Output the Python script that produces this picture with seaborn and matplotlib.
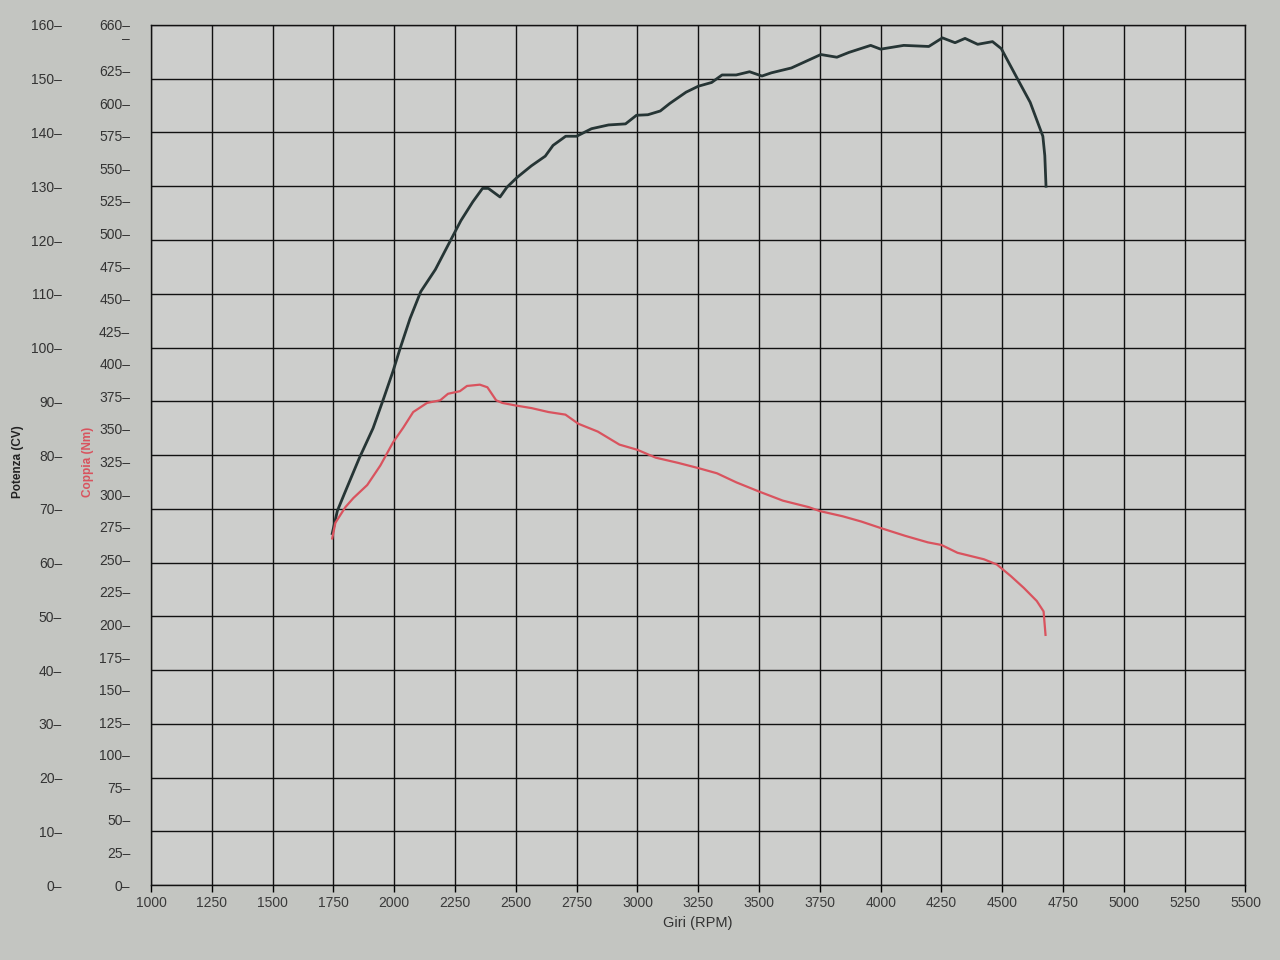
import numpy as np
import pandas as pd
import matplotlib
matplotlib.use("Agg")
import matplotlib.pyplot as plt
import seaborn as sns
from matplotlib.ticker import FixedLocator, FuncFormatter

# power curve (CV)
power_rpm = [1745, 1766, 1795, 1856, 1913, 1957, 1995, 2024, 2065, 2109, 2169, 2230,
             2274, 2323, 2363, 2387, 2435, 2463, 2504, 2564, 2621, 2653, 2705, 2750,
             2811, 2881, 2951, 2996, 3043, 3094, 3133, 3200, 3250, 3305, 3348, 3406,
             3461, 3512, 3551, 3633, 3754, 3820, 3870, 3959, 4000, 4095, 4198, 4254,
             4306, 4347, 4399, 4460, 4496, 4560, 4615, 4667, 4675, 4680]
power_cv = [65.4, 69.6, 72.8, 79.4, 85.0, 90.6, 95.6, 99.8, 105.4, 110.4, 114.5, 119.8,
            123.6, 127.1, 129.6, 129.6, 128.0, 129.8, 131.6, 133.8, 135.6, 137.6, 139.3, 139.3,
            140.7, 141.4, 141.6, 143.2, 143.3, 144.0, 145.4, 147.5, 148.6, 149.3, 150.7, 150.7,
            151.3, 150.5, 151.1, 152.0, 154.5, 154.0, 154.9, 156.2, 155.5, 156.2, 156.0, 157.6,
            156.7, 157.5, 156.4, 156.9, 155.6, 150.2, 145.6, 139.3, 135.7, 130.0]

# torque curve (Nm)
torque_rpm = [1745, 1758, 1799, 1832, 1889, 1943, 1996, 2037, 2078, 2135, 2189, 2221,
              2270, 2299, 2352, 2383, 2419, 2444, 2500, 2565, 2634, 2704, 2757, 2837,
              2926, 3000, 3075, 3167, 3250, 3327, 3407, 3500, 3598, 3705, 3750, 3844,
              3920, 4000, 4101, 4194, 4250, 4316, 4425, 4478, 4536, 4589, 4642, 4670, 4678]
torque_nm = [266, 278, 290, 297, 307, 322, 340, 351, 363, 370, 372, 377,
             379, 383, 384, 382, 372, 370, 368, 366, 363, 361, 354, 348,
             338, 334, 328, 324, 320, 316, 309, 302, 295, 290, 287, 283,
             279, 274, 268, 263, 261, 255, 250, 246, 237, 228, 218, 210, 192]

rpm_ticks = list(range(1000, 5501, 250))
power_ticks = list(range(0, 161, 10))
torque_ticks = list(range(0, 626, 25)) + [660]

power_df = pd.DataFrame({"rpm": power_rpm, "cv": power_cv})
torque_df = pd.DataFrame({"rpm": torque_rpm, "nm": torque_nm})

plt.rcParams["font.family"] = ["Liberation Sans", "DejaVu Sans"]

fig = plt.figure(figsize=(12.8, 9.6), dpi=100)
fig.patch.set_facecolor("#c3c5c1")
ax = fig.add_axes([0.118, 0.078, 0.855, 0.896])
ax.set_facecolor("#cdcecc")

sns.lineplot(data=power_df, x="rpm", y="cv", ax=ax, color="#263535",
             linewidth=2.0, sort=False, estimator=None)

ax.set_xlim(1000, 5500)
ax.set_ylim(0, 160)
ax.xaxis.set_major_locator(FixedLocator(rpm_ticks))
ax.yaxis.set_major_locator(FixedLocator(power_ticks))
ax.yaxis.set_major_formatter(FuncFormatter(lambda v, p: f"{int(v)}\u2013"))
ax.tick_params(axis="y", length=0, pad=64, labelsize=10, labelcolor="#333333")
ax.tick_params(axis="x", length=5, width=1, direction="out", labelsize=10,
               labelcolor="#3a3a3a", pad=3)
ax.grid(True, color="#111111", linewidth=1.0)
ax.set_axisbelow(True)
for s in ax.spines.values():
    s.set_color("#111111")
    s.set_linewidth(1.0)

ax.set_xlabel("Giri (RPM)", fontsize=10.5, color="#333333", labelpad=4)
ax.set_ylabel("")

# torque on a second axis, labels also on the left
ax2 = ax.twinx()
sns.lineplot(data=torque_df, x="rpm", y="nm", ax=ax2, color="#d9535e",
             linewidth=1.6, sort=False, estimator=None)
ax2.set_ylim(0, 660)
ax2.yaxis.tick_left()
ax2.yaxis.set_major_locator(FixedLocator(torque_ticks))
ax2.yaxis.set_major_formatter(FuncFormatter(lambda v, p: f"{int(v)}\u2013"))
ax2.yaxis.set_minor_locator(FixedLocator([650]))
ax2.yaxis.set_minor_formatter(FuncFormatter(lambda v, p: "\u2013"))
ax2.tick_params(axis="y", which="both", length=0, pad=15, labelsize=10,
                labelcolor="#333333", left=False, right=False)
ax2.set_ylabel("")
ax2.set_xlabel("")
for s in ax2.spines.values():
    s.set_visible(False)

fig.text(0.014, 0.519, "Potenza (CV)", rotation=90, fontsize=8.5, fontweight="bold",
         color="#222222", ha="center", va="center")
fig.text(0.069, 0.519, "Coppia (Nm)", rotation=90, fontsize=8.5, fontweight="bold",
         color="#d9535e", ha="center", va="center")

fig.savefig("out.png", dpi=100, facecolor=fig.get_facecolor())
